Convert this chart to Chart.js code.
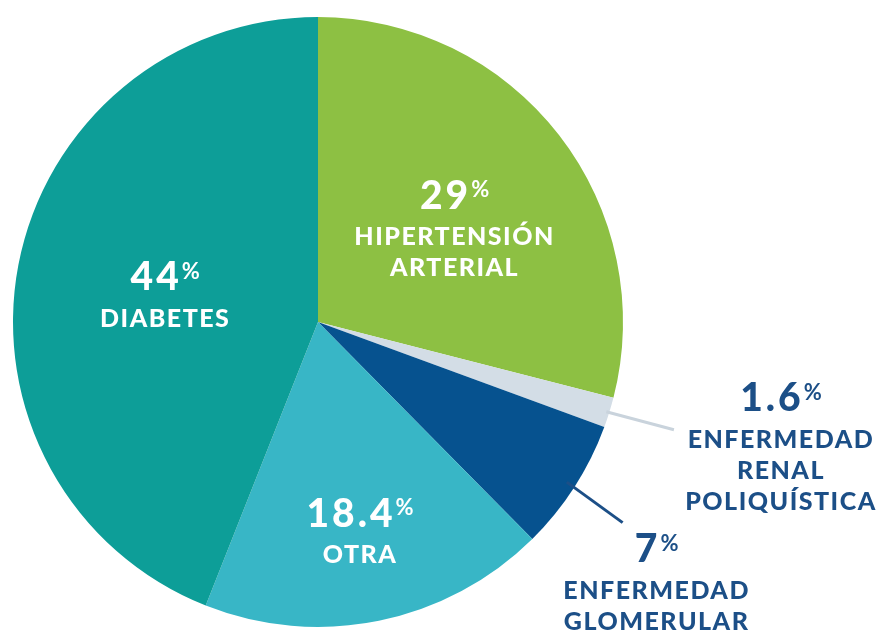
<!DOCTYPE html>
<html>
<head>
<meta charset="utf-8">
<script src="https://cdn.jsdelivr.net/npm/chart.js@4"></script>
<style>
  html, body { margin: 0; padding: 0; background: #fff; }
  #wrap { width: 881px; height: 630px; }
</style>
</head>
<body>
<div id="wrap"><canvas id="myChart" width="881" height="630"></canvas></div>
<script>
const causes = ["HIPERTENSIÓN ARTERIAL", "ENFERMEDAD RENAL POLIQUÍSTICA", "ENFERMEDAD GLOMERULAR", "OTRA", "DIABETES"];
const labelLines = [["HIPERTENSIÓN", "ARTERIAL"], ["ENFERMEDAD", "RENAL", "POLIQUÍSTICA"], ["ENFERMEDAD", "GLOMERULAR"], ["OTRA"], ["DIABETES"]];
const shares = [29, 1.6, 7, 18.4, 44];
const shareText = ["29", "1.6", "7", "18.4", "44"];
const sliceColors = ["#8dc043", "#d3dde6", "#06528f", "#38b6c6", "#0d9e98"];

const FONT = "Lato, 'Open Sans', sans-serif";

// where each label goes: inside the slice, or outside with a leader line
const placement = [
  { inside: true, r: 0.55, dx: 4, dy: -24, color: "#fff" },
  { inside: false, r0: 0.99, angle: 15, len: 70, tx: 107, ty: -32, color: "#1c4f87", line: "#c9d3dc" },
  { inside: false, r0: 0.97, angle: 36, len: 69, tx: 34, ty: 26, color: "#1c4f87", line: "#1c4f87" },
  { inside: true, r: 0.69, dx: 0, dy: -15, color: "#fff" },
  { inside: true, r: 0.51, dx: 0, dy: -16, color: "#fff" },
];

function drawBlock(ctx, x, y, idx, color) {
  ctx.fillStyle = color;
  ctx.textBaseline = "middle";
  // big number with small raised %
  ctx.letterSpacing = "3px";
  ctx.font = "900 39px " + FONT;
  const nw = ctx.measureText(shareText[idx]).width;
  ctx.letterSpacing = "0px";
  ctx.font = "bold 22px " + FONT;
  const pw = ctx.measureText("%").width;
  const left = x - (nw + pw) / 2;
  ctx.textAlign = "left";
  ctx.letterSpacing = "3px";
  ctx.font = "900 39px " + FONT;
  ctx.fillText(shareText[idx], left, y + 1);
  ctx.letterSpacing = "0px";
  ctx.font = "bold 22px " + FONT;
  ctx.fillText("%", left + nw, y - 5);
  ctx.textAlign = "center";
  ctx.letterSpacing = "1.5px";
  ctx.font = "900 25px " + FONT;
  labelLines[idx].forEach((t, i) => {
    ctx.fillText(t, x, y + 42 + i * 31);
  });
  ctx.letterSpacing = "0px";
}

const labelPlugin = {
  id: "sliceLabels",
  afterDatasetsDraw(chart) {
    const ctx = chart.ctx;
    const meta = chart.getDatasetMeta(0);
    meta.data.forEach((arc, i) => {
      const p = placement[i];
      const mid = (arc.startAngle + arc.endAngle) / 2;
      const R = arc.outerRadius;
      ctx.save();
      if (p.inside) {
        const x = arc.x + Math.cos(mid) * R * p.r + p.dx;
        const y = arc.y + Math.sin(mid) * R * p.r + p.dy;
        drawBlock(ctx, x, y, i, p.color);
      } else {
        const sx = arc.x + Math.cos(mid) * R * p.r0;
        const sy = arc.y + Math.sin(mid) * R * p.r0;
        const a = p.angle * Math.PI / 180;
        const ex = sx + Math.cos(a) * p.len;
        const ey = sy + Math.sin(a) * p.len;
        ctx.strokeStyle = p.line;
        ctx.lineWidth = 3;
        ctx.beginPath();
        ctx.moveTo(sx, sy);
        ctx.lineTo(ex, ey);
        ctx.stroke();
        drawBlock(ctx, ex + p.tx, ey + p.ty, i, p.color);
      }
      ctx.restore();
    });
  },
};

new Chart(document.getElementById("myChart"), {
  type: "pie",
  data: {
    labels: causes,
    datasets: [
      {
        data: shares,
        backgroundColor: sliceColors,
        borderWidth: 0,
      },
    ],
  },
  options: {
    responsive: false,
    animation: false,
    layout: { padding: { left: 13, right: 258, top: 17, bottom: 3 } },
    plugins: {
      legend: { display: false },
      tooltip: { enabled: false },
    },
  },
  plugins: [labelPlugin],
});
</script>
</body>
</html>
